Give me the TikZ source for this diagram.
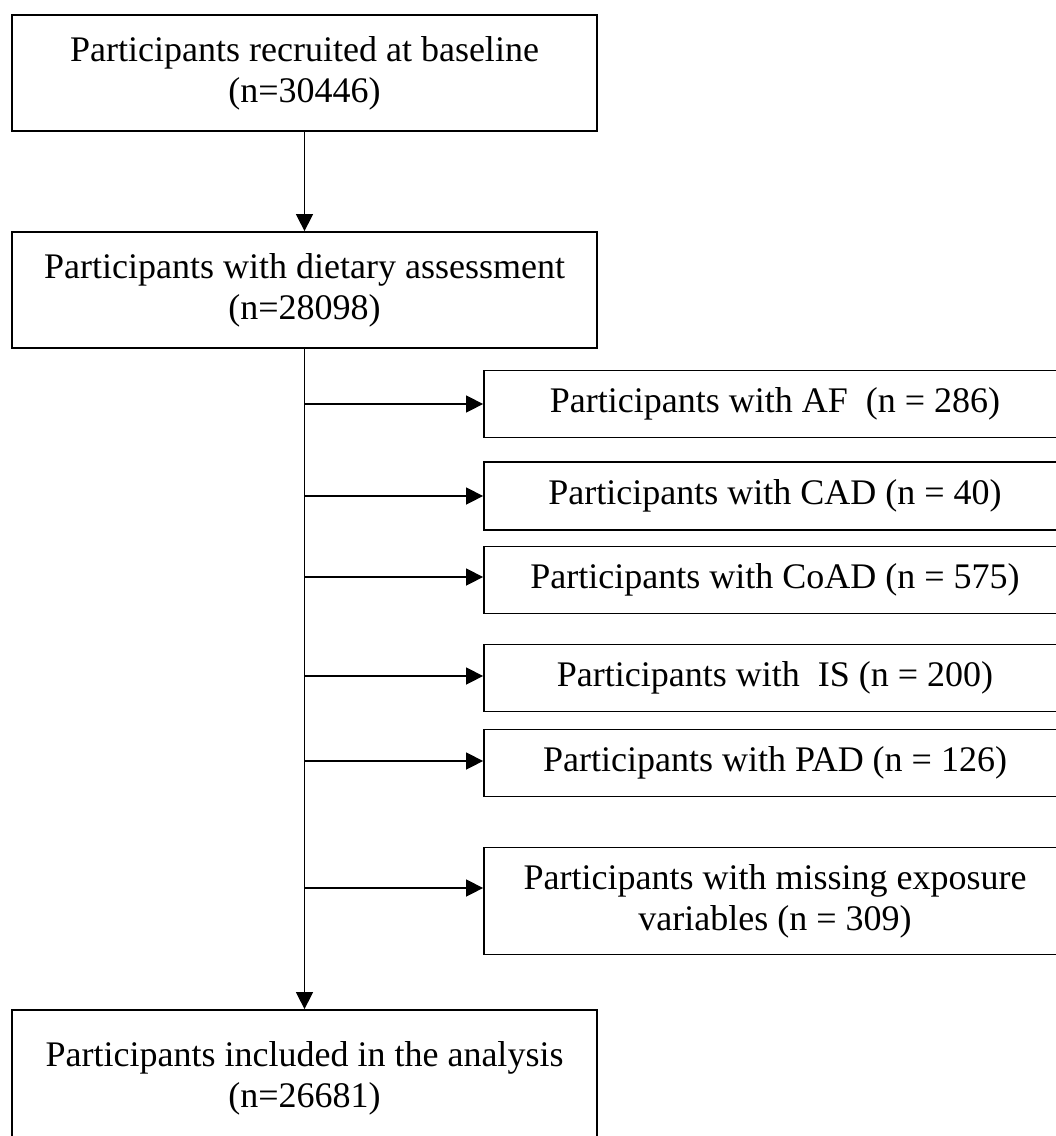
\documentclass[tikz,border=0pt]{standalone}
\usepackage{fontspec}
\setmainfont{Liberation Serif}
\usetikzlibrary{positioning,arrows.meta}

\begin{document}
\begin{tikzpicture}[x=1pt,y=-1pt,
  box/.style={draw,line width=1.8pt,align=center,inner sep=0pt,minimum width=585pt,minimum height=116pt,font=\fontsize{36}{41}\selectfont},
  side/.style={box,minimum width=582pt,minimum height=67pt},
  arr/.style={line width=1.5pt,-{Triangle[length=17pt,width=17pt]}}]
\useasboundingbox (0,0) rectangle (1056,1136);
\clip (0,0) rectangle (1056,1136);
% main column
\node[box] (base) at (304.5,73) {Participants recruited at baseline\\(n=30446)};
\node[box] (diet) at (304.5,290) {Participants with dietary assessment\\(n=28098)};
\node[box,minimum height=136pt] (incl) at (304.5,1078) {Participants included in the analysis\\(n=26681)};
% exclusions
\node[side] (af) at (775,404) {Participants with AF\ \ (n = 286)};
\node[side,minimum height=68pt] (cad) at (775,496) {Participants with CAD (n = 40)};
\node[side] (coad) at (775,580) {Participants with CoAD (n = 575)};
\node[side] (is) at (775,678) {Participants with\ \ IS (n = 200)};
\node[side] (pad) at (775,763) {Participants with PAD (n = 126)};
\node[side,minimum height=107pt] (miss) at (775,901) {Participants with missing exposure\\variables (n = 309)};
\draw[arr] (base) -- (diet);
\draw[arr] (diet) -- (incl);
\draw[arr] (diet.south |- af.west) -- (af.west);
\draw[arr] (diet.south |- cad.west) -- (cad.west);
\draw[arr] ([yshift=3pt]diet.south |- coad.west) -- ([yshift=3pt]coad.west);
\draw[arr] ([yshift=2pt]diet.south |- is.west) -- ([yshift=2pt]is.west);
\draw[arr] ([yshift=2pt]diet.south |- pad.west) -- ([yshift=2pt]pad.west);
\draw[arr] ([yshift=13pt]diet.south |- miss.west) -- ([yshift=13pt]miss.west);
\end{tikzpicture}
\end{document}
